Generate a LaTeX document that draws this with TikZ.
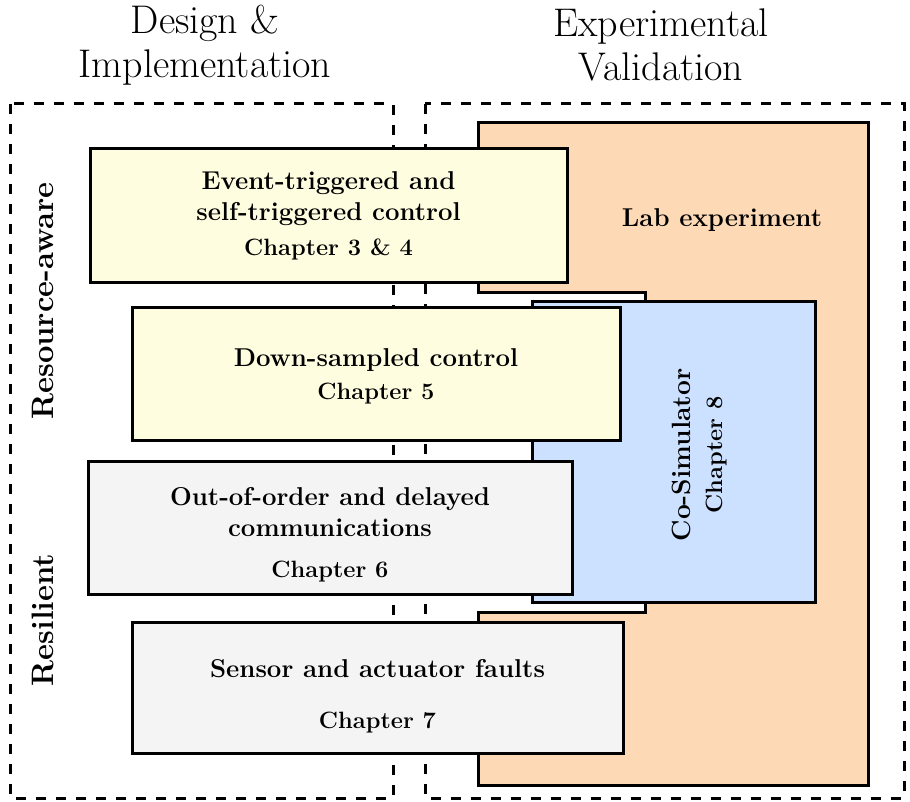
\documentclass[tikz,border=0pt]{standalone}
\usepackage{tikz}
\usetikzlibrary{positioning}

\definecolor{boxyellow}{RGB}{255,253,224}
\definecolor{boxgrey}{RGB}{244,244,244}
\definecolor{labpeach}{RGB}{253,217,182}
\definecolor{simblue}{RGB}{204,224,255}

\newcommand{\chapline}[1]{{\fontsize{11.8}{14}\selectfont #1}}

\begin{document}
\begin{tikzpicture}[x=0.5pt,y=-0.5pt,
  title node/.style={font=\fontsize{20}{22}\selectfont,align=center},
  side node/.style={font=\bfseries\fontsize{15.5}{18}\selectfont,rotate=90},
  group box/.style={dashed,line width=1.5pt,dash pattern=on 5pt off 5pt},
  chap box/.style={draw,line width=1.5pt,align=center,inner sep=0pt,
    font=\bfseries\fontsize{12.9}{15.5}\selectfont}]

  \useasboundingbox (0,0) rectangle (910,802);

  % titles
  \node[title node] (design) at (205,45) {Design \&\\Implementation};
  \node[title node] (valid)  at (661,45) {Experimental\\Validation};

  % dashed groups
  \draw[group box] (10,104) rectangle (393,798);
  \draw[group box] (425,104) rectangle (904,798);

  % side labels
  \node[side node] (resaware) at (43,301) {Resource-aware};
  \node[side node] (resil)    at (43,620) {Resilient};

  % lab experiment area (with notch for the co-simulator)
  \draw[line width=1.5pt,fill=labpeach]
    (478,123) -- (868,123) -- (868,785) -- (478,785) -- (478,612)
    -- (645,612) -- (645,293) -- (478,293) -- cycle;
  \node[font=\bfseries\fontsize{12.9}{15.5}\selectfont] (lab) at (722,220) {Lab experiment};

  % co-simulator
  \node[draw,line width=1.5pt,fill=simblue,minimum width=141.5pt,minimum height=150pt]
    (cosim) at (673.5,452) {};
  \node[rotate=90,align=center,font=\bfseries\fontsize{13.2}{16}\selectfont]
    (cosimtxt) at (700,455) {Co-Simulator\\\chapline{Chapter 8}};

  % chapters
  \node[chap box,fill=boxyellow,minimum width=238.5pt,minimum height=67pt] (evt) at (328.5,216)
    {Event-triggered and\\self-triggered control\\[2pt]\chapline{Chapter 3 \& 4}};
  \node[chap box,fill=boxyellow,minimum width=244pt,minimum height=66.5pt] (down) at (376,373.5)
    {\rule{0pt}{12pt}Down-sampled control\\[1pt]\chapline{Chapter 5}};
  \node[chap box,fill=boxgrey,minimum width=242pt,minimum height=66.5pt] (order) at (330,527.5)
    {\rule{0pt}{16pt}Out-of-order and delayed\\communications\\[5pt]\chapline{Chapter 6}};
  \node[chap box,fill=boxgrey,minimum width=245.5pt,minimum height=65.5pt] (fault) at (377.5,687.5)
    {\rule{0pt}{18pt}Sensor and actuator faults\\[10pt]\chapline{Chapter 7}};

\end{tikzpicture}
\end{document}
